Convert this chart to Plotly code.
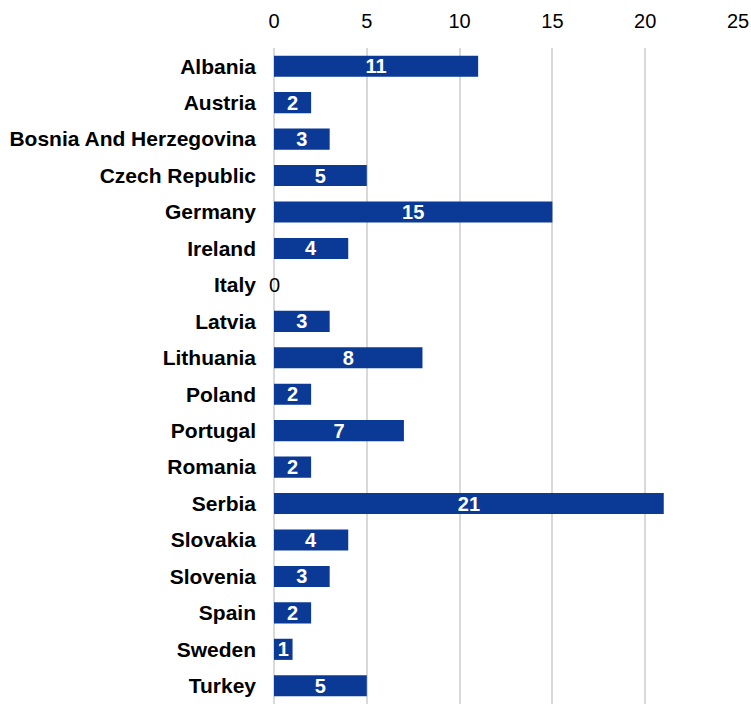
import plotly.graph_objects as go

countries = ["Albania", "Austria", "Bosnia And Herzegovina", "Czech Republic", "Germany",
             "Ireland", "Italy", "Latvia", "Lithuania", "Poland", "Portugal", "Romania",
             "Serbia", "Slovakia", "Slovenia", "Spain", "Sweden", "Turkey"]
values = [11, 2, 3, 5, 15, 4, 0, 3, 8, 2, 7, 2, 21, 4, 3, 2, 1, 5]
x_ticks = [0, 5, 10, 15, 20, 25]

positions = ["inside" if v > 0 else "none" for v in values]

fig = go.Figure(go.Bar(
    x=values, y=countries, orientation="h",
    marker=dict(color="#0B3A96", line=dict(width=0)),
    text=[str(v) for v in values],
    textposition=positions,
    textangle=0,
    constraintext="none",
    insidetextanchor="middle",
    insidetextfont=dict(family="Liberation Sans", size=20, color="white", weight="bold"),
    cliponaxis=False,
))

for c, v in zip(countries, values):
    if v == 0:
        fig.add_annotation(x=v, y=c, text=str(v), showarrow=False, xanchor="center",
                           font=dict(family="Liberation Sans", size=20, color="black"))

fig.update_layout(
    width=751, height=704,
    margin=dict(l=274, r=13, t=48, b=0),
    paper_bgcolor="white", plot_bgcolor="white",
    bargap=0.42,
    showlegend=False,
)
fig.update_xaxes(
    range=[0, 25], side="top", tickvals=x_ticks,
    showgrid=True, gridcolor="#D9D9D9", gridwidth=1.5,
    zeroline=True, zerolinecolor="#D9D9D9", zerolinewidth=1.5,
    tickfont=dict(family="Liberation Sans", size=20, color="black"),
    ticklabelstandoff=15,
    showline=False, ticks="",
)
fig.update_yaxes(
    autorange="reversed",
    tickfont=dict(family="Liberation Sans", size=21, color="black", weight="bold"),
    ticklabelstandoff=17, showgrid=False,
)

fig.write_html("out.html")
